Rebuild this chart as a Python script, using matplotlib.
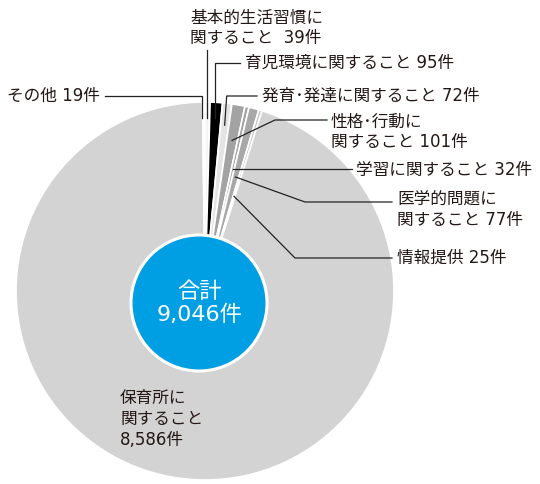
import numpy as np
import matplotlib
matplotlib.use("Agg")
import matplotlib.pyplot as plt
from matplotlib.patches import Circle

# wide latin digits from DejaVu, kana/kanji fall through to Noto CJK
plt.rcParams['font.family'] = ['DejaVu Sans', 'Noto Sans CJK JP']

# data, clockwise from 12 o'clock
cats = ['基本的生活習慣', '育児環境', '発育・発達', '性格・行動', '学習',
        '医学的問題', '情報提供', '保育所', 'その他']
counts = [39, 95, 72, 101, 32, 77, 25, 8586, 19]
labels = ['基本的生活習慣に\n関すること  39件',
          '育児環境に関すること 95件',
          '発育･発達に関すること 72件',
          '性格･行動に\n関すること 101件',
          '学習に関すること 32件',
          '医学的問題に\n関すること 77件',
          '情報提供 25件',
          '保育所に\n関すること\n8,586件',
          'その他 19件']
total_label = '合計\n9,046件'
colors = ['#f4f4f4', '#000000', '#e4e4e4', '#a3a3a3', '#a3a3a3',
          '#a8a8a8', '#c4c4c4', '#d3d3d3', '#ffffff']

W, H = 540, 484
def sy(y):
    # screen y (from top) -> data y
    return H - y

fig = plt.figure(figsize=(5.4, 4.84), dpi=100)
ax = fig.add_axes([0, 0, 1, 1])
ax.set_xlim(0, W)
ax.set_ylim(0, H)
ax.set_aspect('equal')
ax.axis('off')

cx, cy, R = 205, sy(291), 189
wedges, _ = ax.pie(counts, colors=colors, startangle=90, counterclock=False,
                   center=(cx, cy), radius=R,
                   wedgeprops=dict(edgecolor='white', linewidth=1.2))
ax.set_xlim(0, W)
ax.set_ylim(0, H)

def anchor(i, r):
    w = wedges[i]
    t = np.deg2rad((w.theta1 + w.theta2) / 2)
    return cx + r * np.cos(t), cy + r * np.sin(t)

lc = '#222222'
lw = 0.9

# 基本的生活習慣
x0, y0 = anchor(0, 173)
ax.plot([x0, x0], [y0, sy(50)], color=lc, lw=lw)
# 育児環境
x0, y0 = anchor(1, 173)
ax.plot([x0, x0, 240], [y0, sy(63), sy(63)], color=lc, lw=lw)
# 発育・発達
x0, y0 = anchor(2, 167)
ax.plot([x0, x0 + 2, 257], [y0, sy(96), sy(96)], color=lc, lw=lw)
# 性格・行動
x0, y0 = anchor(3, 153)
ax.plot([x0, 275, 327], [y0, sy(120), sy(120)], color=lc, lw=lw)
# 学習
x0, y0 = anchor(4, 125)
ax.plot([x0, 352], [y0, y0], color=lc, lw=lw)
# 医学的問題
x0, y0 = anchor(5, 118)
ax.plot([x0, 305, 392], [y0, sy(202), sy(202)], color=lc, lw=lw)
# 情報提供
x0, y0 = anchor(6, 99)
ax.plot([x0, 295, 392], [y0, sy(258), sy(258)], color=lc, lw=lw)
# その他
x0, y0 = anchor(8, 173)
ax.plot([x0 - 2, x0 - 2, 105], [y0, sy(96), sy(96)], color=lc, lw=lw)

fs = 12
tc = '#231815'
txt = dict(fontsize=fs, color=tc, va='center', linespacing=1.2)
ax.text(190, sy(28), labels[0], ha='left', **txt)
ax.text(245, sy(63), labels[1], ha='left', **txt)
ax.text(262, sy(96), labels[2], ha='left', **txt)
ax.text(331, sy(132), labels[3], ha='left', **txt)
ax.text(356, sy(170), labels[4], ha='left', **txt)
ax.text(397, sy(210), labels[5], ha='left', **txt)
ax.text(397, sy(258), labels[6], ha='left', **txt)
ax.text(120, sy(419), labels[7], ha='left', **txt)
ax.text(100, sy(96), labels[8], ha='right', **txt)

# centre circle
ax.add_patch(Circle((199, sy(303)), 68, facecolor='#009fe3',
                    edgecolor='white', linewidth=2.2, zorder=5))
ax.text(200, sy(303), total_label, ha='center', va='center', color='white',
        fontsize=16, linespacing=1.15, zorder=6)

fig.savefig('out.png', dpi=100)
